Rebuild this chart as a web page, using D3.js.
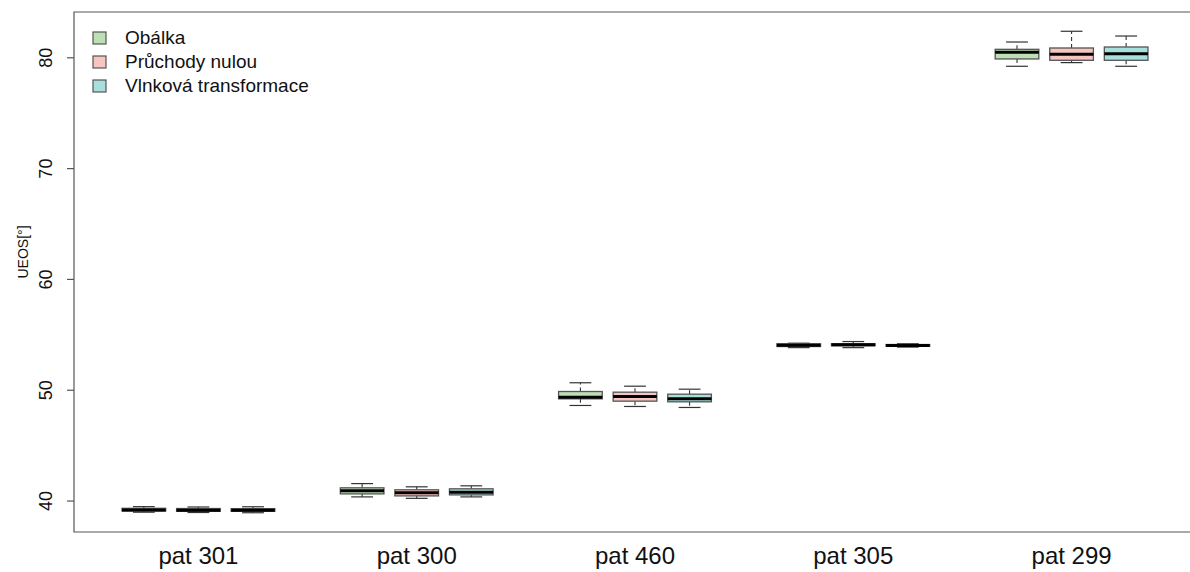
<!DOCTYPE html>
<html>
<head>
<meta charset="utf-8">
<script src="https://cdn.jsdelivr.net/npm/d3@7"></script>
<style>
  html, body { margin: 0; padding: 0; background: #fff; }
  svg text { font-family: "Liberation Sans", Arial, sans-serif; fill: #111; }
</style>
</head>
<body>
<svg id="chart" width="1190" height="572"></svg>
<script>
// Patients along the x axis and the three detection methods per patient
const patients = ["pat 301", "pat 300", "pat 460", "pat 305", "pat 299"];
const methods = ["Obálka", "Průchody nulou", "Vlnková transformace"];
const methodColors = ["#bcdfb3", "#f6c5bf", "#a7dfdc"];
const yTicks = [40, 50, 60, 70, 80];

// Five-number summaries [min, q1, median, q3, max] of UEOS per method
const obalka = [
  [38.95, 39.05, 39.15, 39.30, 39.45],
  [40.33, 40.60, 40.88, 41.15, 41.53],
  [48.58, 49.18, 49.33, 49.84, 50.63],
  [53.80, 53.90, 54.02, 54.15, 54.20],
  [79.19, 79.85, 80.45, 80.72, 81.38]
];
const pruchody = [
  [38.92, 39.03, 39.12, 39.28, 39.42],
  [40.20, 40.42, 40.70, 40.97, 41.24],
  [48.49, 48.97, 49.39, 49.78, 50.32],
  [53.80, 53.97, 54.05, 54.15, 54.35],
  [79.52, 79.73, 80.27, 80.84, 82.35]
];
const vlnkova = [
  [38.90, 39.03, 39.12, 39.27, 39.44],
  [40.33, 40.51, 40.75, 41.06, 41.33],
  [48.40, 48.91, 49.18, 49.60, 50.05],
  [53.85, 53.92, 54.00, 54.08, 54.15],
  [79.19, 79.73, 80.33, 80.93, 81.92]
];
const series = [obalka, pruchody, vlnkova];

const svg = d3.select("#chart");
const plot = { left: 74, top: 12, bottom: 532, right: 1196 };

// Box slots: three boxes per patient, one empty slot between patients
const boxes = [];
patients.forEach((p, i) => {
  methods.forEach((m, j) => {
    boxes.push({ patient: i, method: j, pos: i * 4 + j + 1, stats: series[j][i] });
  });
});

const x = d3.scaleLinear().domain([-0.28, 20.28]).range([plot.left, plot.right]);

// y range padded by 4% of the data range
const allVals = series.flat(2);
const lo = d3.min(allVals), hi = d3.max(allVals);
const pad = (hi - lo) * 0.04;
const y = d3.scaleLinear().domain([lo - pad, hi + pad]).range([plot.bottom, plot.top]);

const unit = x(1) - x(0);
const boxW = unit * 0.8;
const capW = boxW * 0.5;

// Plot frame (right side runs off the canvas)
svg.append("path")
  .attr("d", `M${plot.right},${plot.top}H${plot.left}V${plot.bottom}H${plot.right}`)
  .attr("fill", "none").attr("stroke", "#555").attr("stroke-width", 1.2);

// y axis
const yAxis = d3.axisLeft(y).tickValues(yTicks).tickSize(7).tickPadding(6).tickFormat(d3.format("d"));
const ya = svg.append("g").attr("transform", `translate(${plot.left},0)`).call(yAxis);
ya.select(".domain").remove();
ya.selectAll(".tick line").attr("stroke", "#555").attr("stroke-width", 1.2);
ya.selectAll(".tick text")
  .attr("font-size", 18)
  .attr("fill", "#111")
  .attr("text-anchor", "middle")
  .attr("x", 0).attr("dy", 0)
  .attr("transform", "translate(-27,0) rotate(-90)")
  .attr("dominant-baseline", "middle");

svg.append("text")
  .attr("transform", `translate(24,252) rotate(-90)`)
  .attr("text-anchor", "middle")
  .attr("dominant-baseline", "middle")
  .attr("font-size", 14)
  .text("UEOS[°]");

// x labels at the middle box of each patient
const xa = svg.append("g");
patients.forEach((p, i) => {
  xa.append("text")
    .attr("x", x(i * 4 + 2))
    .attr("y", 564)
    .attr("text-anchor", "middle")
    .attr("font-size", 24)
    .text(p);
});

// Boxplots
const g = svg.append("g");
boxes.forEach(b => {
  const [mn, q1, md, q3, mx] = b.stats;
  const cx = x(b.pos);
  const grp = g.append("g");
  // whiskers (dashed)
  grp.append("line").attr("x1", cx).attr("x2", cx).attr("y1", y(q3)).attr("y2", y(mx))
    .attr("stroke", "#333").attr("stroke-width", 1.1).attr("stroke-dasharray", "4,3");
  grp.append("line").attr("x1", cx).attr("x2", cx).attr("y1", y(q1)).attr("y2", y(mn))
    .attr("stroke", "#333").attr("stroke-width", 1.1).attr("stroke-dasharray", "4,3");
  // caps
  [mn, mx].forEach(v => {
    grp.append("line").attr("x1", cx - capW / 2).attr("x2", cx + capW / 2)
      .attr("y1", y(v)).attr("y2", y(v))
      .attr("stroke", "#333").attr("stroke-width", 1.2);
  });
  // box
  grp.append("rect")
    .attr("x", cx - boxW / 2).attr("width", boxW)
    .attr("y", y(q3)).attr("height", Math.max(0.5, y(q1) - y(q3)))
    .attr("fill", methodColors[b.method])
    .attr("stroke", "#555").attr("stroke-width", 1.3);
  // median
  grp.append("line").attr("x1", cx - boxW / 2).attr("x2", cx + boxW / 2)
    .attr("y1", y(md)).attr("y2", y(md))
    .attr("stroke", "#000").attr("stroke-width", 3);
});

// Legend
const legend = svg.append("g").attr("transform", "translate(93,38)");
methods.forEach((m, j) => {
  const row = legend.append("g").attr("transform", `translate(0,${j * 24})`);
  row.append("rect").attr("x", 0).attr("y", -6).attr("width", 13).attr("height", 12)
    .attr("fill", methodColors[j]).attr("stroke", "#555").attr("stroke-width", 1.2);
  row.append("text").attr("x", 32).attr("y", 1)
    .attr("dominant-baseline", "middle")
    .attr("font-size", 19)
    .text(m);
});
</script>
</body>
</html>
